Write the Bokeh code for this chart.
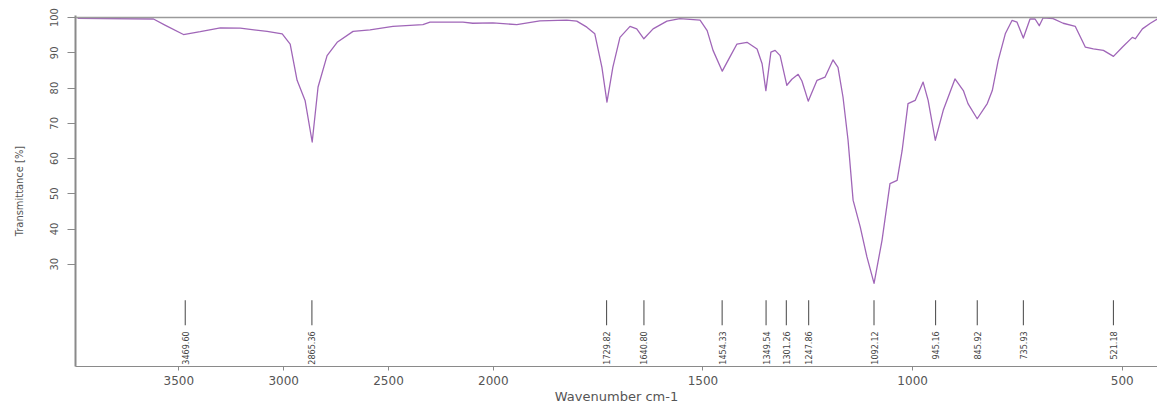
import numpy as np
from bokeh.plotting import figure
from bokeh.models import (ColumnDataSource, Range1d, FixedTicker, CustomJSTickFormatter,
                          CustomJSTransform, Span)
from bokeh.transform import transform
from bokeh.core.properties import value
from bokeh.embed import file_html
from bokeh.resources import INLINE

# ---------------- data ----------------
wavenumber = [3983, 3621, 3564, 3478, 3398, 3302, 3207, 3079, 3007, 2969, 2936, 2898, 2864,
              2836, 2793, 2745, 2669, 2588, 2479, 2336, 2302, 2145, 2098, 2002, 1944, 1889,
              1825, 1801, 1777, 1758, 1741, 1729, 1715, 1698, 1674, 1658, 1641, 1619, 1586,
              1555, 1507, 1490, 1476, 1454, 1436, 1419, 1395, 1371, 1359, 1350, 1338, 1328,
              1316, 1300, 1288, 1273, 1264, 1249, 1228, 1209, 1190, 1178, 1166, 1154, 1142,
              1125, 1109, 1092, 1073, 1054, 1037, 1025, 1011, 994, 975, 963, 946, 927, 899,
              879, 868, 846, 822, 810, 796, 779, 763, 751, 736, 720, 708, 698, 689, 665, 641,
              612, 588, 569, 545, 521, 500, 476, 469, 452, 433, 416]
transmittance = [99.8, 99.6, 97.8, 95.2, 96.0, 97.1, 97.0, 96.1, 95.4, 92.5, 82.2, 76.5, 64.7,
                 80.3, 89.2, 93.0, 96.1, 96.5, 97.5, 98.0, 98.7, 98.7, 98.4, 98.5, 98.0, 99.1,
                 99.3, 99.0, 97.3, 95.4, 85.9, 76.0, 85.9, 94.4, 97.5, 96.8, 94.0, 96.8, 99.0,
                 99.7, 99.3, 96.3, 90.7, 84.8, 88.8, 92.5, 93.0, 91.1, 86.9, 79.3, 90.2, 90.7,
                 89.2, 80.8, 82.5, 83.9, 82.0, 76.3, 82.2, 83.1, 88.0, 85.9, 77.4, 65.2, 48.2,
                 40.6, 32.1, 24.6, 36.8, 52.9, 53.8, 62.3, 75.6, 76.5, 81.7, 76.5, 65.2, 73.7,
                 82.6, 79.3, 75.6, 71.3, 75.6, 79.3, 87.8, 95.4, 99.2, 98.7, 94.2, 99.6, 99.6,
                 97.7, 99.9, 99.7, 98.4, 97.5, 91.6, 91.1, 90.7, 89.0, 91.6, 94.4, 94.0, 96.8,
                 98.4, 99.6]

peak_wn = [3469.60, 2865.36, 1729.82, 1640.80, 1454.33, 1349.54, 1301.26, 1247.86,
           1092.12, 945.16, 845.92, 735.93, 521.18]
peak_labels = ["3469.60", "2865.36", "1729.82", "1640.80", "1454.33", "1349.54", "1301.26",
               "1247.86", "1092.12", "945.16", "845.92", "735.93", "521.18"]

xtick_wn = [3500, 3000, 2500, 2000, 1500, 1000, 500]
ytick_vals = [30, 40, 50, 60, 70, 80, 90, 100]

# ---------------- axis with scale change at 2000 cm-1 ----------------
BREAK = 2000.0
COMP = 0.5


def fold(w):
    return w if w <= BREAK else BREAK + (w - BREAK) * COMP


xfold = CustomJSTransform(
    args=dict(b=BREAK, c=COMP),
    func="return x <= b ? x : b + (x - b) * c;",
    v_func="return Array.from(xs, (x) => x <= b ? x : b + (x - b) * c);",
)

NARROW = "'Liberation Sans Narrow', 'DejaVu Sans Condensed', 'Liberation Sans', sans-serif"

p = figure(width=1157, height=406, output_backend="svg", toolbar_location=None,
           x_range=Range1d(fold(3993), fold(416)), y_range=Range1d(1, 100.6),
           min_border_left=75, min_border_right=0, min_border_top=15, min_border_bottom=40)
p.outline_line_color = None
p.xgrid.grid_line_color = None
p.ygrid.grid_line_color = None
p.background_fill_color = "white"
p.border_fill_color = "white"

# reference line at 100 %
p.add_layout(Span(location=100, dimension="width", line_color="#9a9a9a", line_width=1.5))

src = ColumnDataSource(dict(wn=wavenumber, t=transmittance))
p.line(x=transform("wn", xfold), y="t", source=src, line_color="#a066b8", line_width=1.3,
       line_join="round")

psrc = ColumnDataSource(dict(wn=peak_wn, label=peak_labels))
p.segment(x0=transform("wn", xfold), y0=19.8, x1=transform("wn", xfold), y1=12.7,
          source=psrc, line_color="#444444", line_width=1)
p.text(x=transform("wn", xfold), y=11.0, text="label", source=psrc, angle=np.pi / 2,
       text_align="right", text_baseline="middle", text_font=value(NARROW),
       text_font_size="9px", text_color="#444444")

# x axis
xa = p.xaxis[0]
xa.ticker = FixedTicker(ticks=[fold(w) for w in xtick_wn])
xa.formatter = CustomJSTickFormatter(args=dict(b=BREAK, c=COMP),
                                     code="return (tick > b ? b + (tick - b) / c : tick).toFixed(0);")
xa.axis_label = "Wavenumber cm-1"
xa.axis_label_text_font = "DejaVu Sans"
xa.axis_label_text_font_style = "normal"
xa.axis_label_text_font_size = "13px"
xa.axis_label_text_color = "#555555"
xa.axis_label_standoff = 1
xa.major_label_text_font = "DejaVu Sans"
xa.major_label_text_font_size = "12px"
xa.major_label_text_color = "#555555"
xa.major_label_standoff = 5
xa.axis_line_color = "#8a8a8a"
xa.major_tick_line_color = "#8a8a8a"
xa.major_tick_out = 4
xa.major_tick_in = 0
xa.minor_tick_line_color = None

# y axis
ya = p.yaxis[0]
ya.ticker = FixedTicker(ticks=ytick_vals)
ya.axis_label = "Transmittance [%]"
ya.axis_label_text_font = NARROW
ya.axis_label_text_font_style = "normal"
ya.axis_label_text_font_size = "11px"
ya.axis_label_text_color = "#555555"
ya.axis_label_standoff = 22
ya.major_label_orientation = "vertical"
ya.major_label_text_font = NARROW
ya.major_label_text_font_size = "11px"
ya.major_label_text_color = "#555555"
ya.major_label_standoff = 9
ya.axis_line_color = "#8a8a8a"
ya.axis_line_width = 2
ya.major_tick_line_color = "#8a8a8a"
ya.major_tick_out = 8
ya.major_tick_in = 0
ya.minor_tick_line_color = None

open("out.html", "w").write(file_html(p, INLINE))
